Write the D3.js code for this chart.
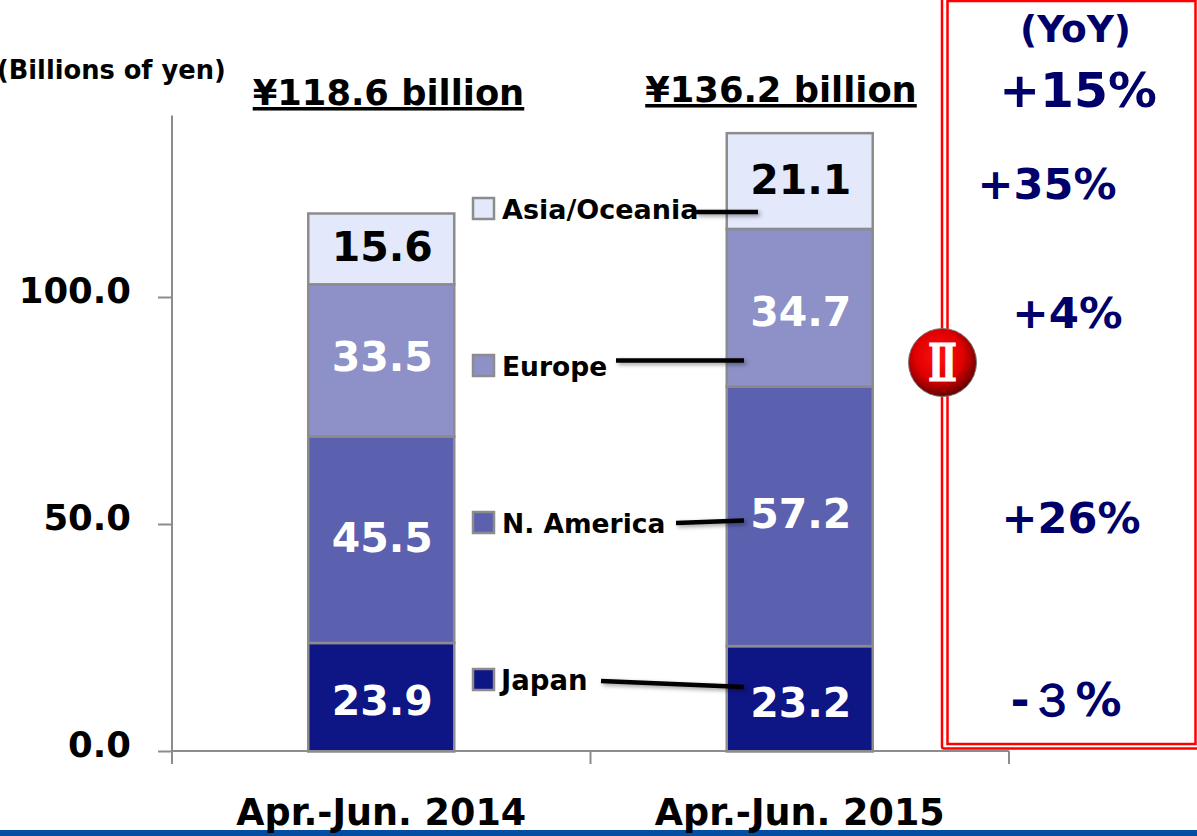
<!DOCTYPE html>
<html>
<head>
<meta charset="utf-8">
<script src="https://cdn.jsdelivr.net/npm/d3@7"></script>
<style>
  html, body { margin: 0; padding: 0; background: #fff; }
  svg { display: block; }
  text { font-family: "DejaVu Sans", sans-serif; font-weight: bold; }
</style>
</head>
<body>
<svg width="1197" height="836"></svg>
<script>
var periods = ['Apr.-Jun. 2014', 'Apr.-Jun. 2015'];
var regions = ['Japan', 'N. America', 'Europe', 'Asia/Oceania'];
var japan = [23.9, 23.2];
var nAmerica = [45.5, 57.2];
var europe = [33.5, 34.7];
var asiaOceania = [15.6, 21.1];
var totals = ['¥118.6 billion', '¥136.2 billion'];
var yoy = ['-３%', '+26%', '+4%', '+35%'];
var yoyTotal = '+15%';
var yTicks = [0, 50, 100];

var colors = ['#0e1584', '#5b61ae', '#8d91c8', '#e3e8fb'];
var labelColors = ['#fff', '#fff', '#fff', '#000'];
var grey = '#8c8c8c';
var navy = '#00006b';

var svg = d3.select('svg');

// scales, axis runs from 0 at y=751 up to 140 at the top
var y = d3.scaleLinear().domain([0, 140]).range([751, 115.4]);
var x = d3.scaleBand().domain(periods).range([172, 1009]);
var barW = 146;

var defs = svg.append('defs');
var shadow = defs.append('filter').attr('id', 'shadow').attr('filterUnits', 'userSpaceOnUse')
  .attr('x', 0).attr('y', 0).attr('width', 1197).attr('height', 836);
shadow.append('feDropShadow').attr('dx', 2).attr('dy', 2).attr('stdDeviation', 2).attr('flood-color', '#000').attr('flood-opacity', 0.4);

// footer rule
svg.append('rect').attr('x', 0).attr('y', 830).attr('width', 1197).attr('height', 6).attr('fill', '#034ea2');

// stack the series
var rows = periods.map(function(p, i) {
  return {period: p, Japan: japan[i], 'N. America': nAmerica[i], Europe: europe[i], 'Asia/Oceania': asiaOceania[i]};
});
var stacked = d3.stack().keys(regions)(rows);

// Small shifts of the value labels from the segment centres, as in the picture
var labelShift = [[3, 4], [-2, -3], [-4, 4], [-2, -1]];

stacked.forEach(function(layer, k) {
  var g = svg.append('g');
  g.selectAll('rect')
    .data(layer)
    .enter()
    .append('rect')
    .attr('x', function(d) { return x(d.data.period) + (x.bandwidth() - barW) / 2; })
    .attr('y', function(d) { return y(d[1]) + 0.5; })
    .attr('width', barW)
    .attr('height', function(d) { return y(d[0]) - y(d[1]); })
    .attr('fill', colors[k])
    .attr('stroke', grey)
    .attr('stroke-width', 2.5);
  g.selectAll('text')
    .data(layer)
    .enter()
    .append('text')
    .attr('x', function(d) { return x(d.data.period) + x.bandwidth() / 2 + 1; })
    .attr('y', function(d, i) { return (y(d[0]) + y(d[1])) / 2 + labelShift[k][i]; })
    .attr('dy', '0.36em')
    .attr('text-anchor', 'middle')
    .attr('font-size', 41)
    .attr('fill', labelColors[k])
    .text(function(d) { return (d[1] - d[0]).toFixed(1); });
});

// axes
var yAxis = d3.axisLeft(y).tickValues(yTicks).tickSize(14).tickPadding(27).tickFormat(d3.format('.1f'));
var gy = svg.append('g').attr('transform', 'translate(172,0)').call(yAxis);
gy.selectAll('.domain').remove();
gy.append('line').attr('y1', y(0)).attr('y2', y(140)).attr('stroke', grey).attr('stroke-width', 2);
gy.selectAll('.tick line').attr('stroke', grey).attr('stroke-width', 2);
gy.selectAll('.tick text').attr('font-size', 35.5).attr('fill', '#000').attr('font-family', null).attr('y', -6);

// baseline with ticks at the band edges
svg.append('line').attr('x1', 172).attr('x2', 1009).attr('y1', y(0)).attr('y2', y(0)).attr('stroke', grey).attr('stroke-width', 2);
svg.selectAll('.xtick')
  .data([172, 172 + x.step(), 172 + 2 * x.step()])
  .enter()
  .append('line')
  .attr('x1', function(d) { return d; })
  .attr('x2', function(d) { return d; })
  .attr('y1', y(0))
  .attr('y2', y(0) + 13)
  .attr('stroke', grey)
  .attr('stroke-width', 2);
svg.selectAll('.xlabel')
  .data(periods)
  .enter()
  .append('text')
  .attr('x', function(d) { return x(d) + x.bandwidth() / 2; })
  .attr('y', 825)
  .attr('text-anchor', 'middle')
  .attr('font-size', 36.5)
  .attr('fill', '#000')
  .text(function(d) { return d; });

// unit and totals
svg.append('text').attr('x', -3).attr('y', 79).attr('font-size', 25.7).attr('fill', '#000').text('(Billions of yen)');
svg.selectAll('.total')
  .data(totals)
  .enter()
  .append('text')
  .attr('x', function(d, i) { return [388.5, 781][i]; })
  .attr('y', function(d, i) { return [105, 102][i]; })
  .attr('text-anchor', 'middle')
  .attr('font-size', 35.3)
  .attr('fill', '#000')
  .attr('text-decoration', 'underline')
  .text(function(d) { return d; });

// legend and leader lines
var legendY = [680, 523, 366, 209];
var legendTextX = [501, 502, 502, 502];
var legendSize = [27.5, 26.5, 26.5, 27];
var leaders = [[601, 681, 744, 687], [676, 523, 744, 520.5], [616, 360.5, 744, 360.5], [696, 212, 758, 212]];
regions.forEach(function(r, i) {
  svg.append('rect')
    .attr('x', 473).attr('y', legendY[i] - 11)
    .attr('width', 21).attr('height', 21)
    .attr('fill', colors[i]).attr('stroke', grey).attr('stroke-width', 2.5);
  svg.append('text')
    .attr('x', legendTextX[i]).attr('y', legendY[i] + 10)
    .attr('font-size', legendSize[i]).attr('fill', '#000').text(r);
  svg.append('path')
    .attr('d', d3.line()([[leaders[i][0], leaders[i][1]], [leaders[i][2], leaders[i][3]]]))
    .attr('stroke', '#000').attr('stroke-width', 4.5).attr('fill', 'none')
    .attr('filter', 'url(#shadow)');
});

// YoY box, double red border
svg.append('rect').attr('x', 942).attr('y', -4).attr('width', 270).attr('height', 752.5).attr('rx', 2).attr('fill', 'none').attr('stroke', '#f00').attr('stroke-width', 2.5);
svg.append('rect').attr('x', 947.5).attr('y', 1).attr('width', 248).attr('height', 743).attr('fill', 'none').attr('stroke', '#f00').attr('stroke-width', 2.5);

svg.append('text').attr('x', 1075.5).attr('y', 42).attr('text-anchor', 'middle').attr('font-size', 37.5).attr('fill', navy).text('(YoY)');
svg.append('text').attr('x', 1078).attr('y', 107).attr('text-anchor', 'middle').attr('font-size', 48.8).attr('fill', navy).text(yoyTotal);
var yoyX = [1066, 1071, 1067.5, 1047];
var yoyY = [716, 533, 328, 199];
var yoySize = [46, 43, 43.5, 43];
svg.selectAll('.yoy')
  .data(yoy)
  .enter()
  .append('text')
  .attr('x', function(d, i) { return yoyX[i]; })
  .attr('y', function(d, i) { return yoyY[i]; })
  .attr('text-anchor', 'middle')
  .attr('font-size', function(d, i) { return yoySize[i]; })
  .attr('fill', navy)
  .text(function(d) { return d; });

// red badge
var grad = defs.append('radialGradient').attr('id', 'badge').attr('cx', '45%').attr('cy', '40%').attr('r', '60%');
grad.append('stop').attr('offset', '0%').attr('stop-color', '#f11');
grad.append('stop').attr('offset', '60%').attr('stop-color', '#e00000');
grad.append('stop').attr('offset', '100%').attr('stop-color', '#600');
svg.append('circle').attr('cx', 942.5).attr('cy', 362.5).attr('r', 34).attr('fill', 'url(#badge)').attr('stroke', '#777').attr('stroke-width', 1);
svg.append('text')
  .attr('x', 928).attr('y', 381)
  .attr('textLength', 29).attr('lengthAdjust', 'spacingAndGlyphs')
  .attr('font-size', 52).attr('fill', '#fff')
  .attr('stroke', '#fff').attr('stroke-width', 1)
  .style('font-family', '"DejaVu Serif"')
  .text('Ⅱ');
</script>
</body>
</html>
